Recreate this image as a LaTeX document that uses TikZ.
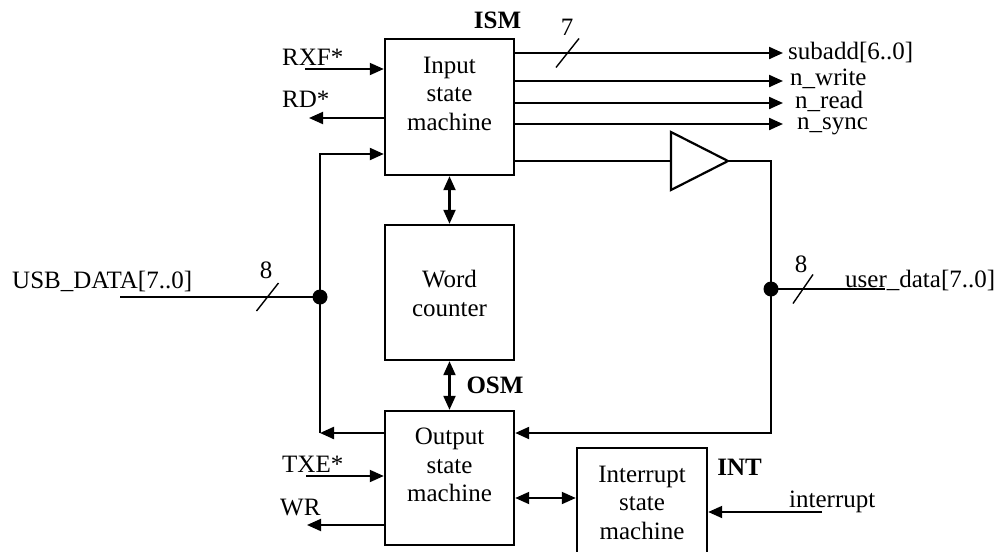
\documentclass[tikz,border=0pt]{standalone}
\usepackage{fontspec}
\setmainfont{Liberation Serif}
\usetikzlibrary{arrows.meta}

\begin{document}
\begin{tikzpicture}[x=1pt,y=-1pt,
  font=\fontsize{25}{28.5}\selectfont,
  >={Triangle[length=14pt,width=12pt]},
  blk/.style={draw,line width=2.4pt,minimum width=129pt,inner sep=0pt},
  blktext/.style={align=center,inner sep=0pt},
  sig/.style={inner sep=0pt,anchor=base west},
  blocktag/.style={inner sep=0pt,anchor=base,font=\fontsize{25}{28.5}\selectfont\bfseries},
  wire/.style={line width=2.2pt},
  lead/.style={line width=1.9pt},
  busmark/.style={line width=1.4pt}]
\useasboundingbox (0,0) rectangle (997,552);
\clip (0,0) rectangle (997,552);
% ---- blocks ----
\node[blk,minimum height=136pt] (ism) at (449.5,107) {};
\node[blktext] (ism-txt) at (449.5,93.5) {Input\\state\\machine};
\node[blk,minimum height=135pt] (wc) at (449.5,292.5) {};
\node[blktext] (wc-txt) at (449.5,293.5) {Word\\counter};
\node[blk,minimum height=134pt] (osm) at (449.5,478) {};
\node[blktext] (osm-txt) at (449.5,465) {Output\\state\\machine};
\node[blk,minimum width=130pt,minimum height=112pt] (int) at (642,504) {};
\node[blktext] (int-txt) at (642,502.5) {Interrupt\\state\\machine};
\node[blocktag] (ism-tag) at (497.5,28) {ISM};
\node[blocktag] (osm-tag) at (495,393) {OSM};
\node[blocktag] (int-tag) at (739.5,475) {INT};
% ---- end points ----
\coordinate (rxf) at (305,69);
\coordinate (rd) at (309,118);
\coordinate (fb) at (320,154);
\coordinate (lj) at (320,297);
\coordinate (ob) at (320,433);
\coordinate (usb) at (120,297);
\coordinate (sub) at (783,53);
\coordinate (nw) at (783,81);
\coordinate (nr) at (783,103);
\coordinate (ns) at (783,124);
\coordinate (bufin) at (671,161);
\coordinate (bufout) at (728,161);
\coordinate (rc) at (771,161);
\coordinate (rj) at (771,289);
\coordinate (rb) at (771,433);
\coordinate (ud) at (885,289);
\coordinate (txe) at (306,476);
\coordinate (wr) at (307,525);
\coordinate (intr) at (822,512);
\coordinate (s7) at (567.5,53);
\coordinate (sl) at (267.5,297);
\coordinate (sr) at (803,289);
% ---- ISM side ----
\draw[lead,->] (rxf) -- (rxf -| ism.west);
\draw[lead,->] (rd -| ism.west) -- (rd);
\draw[wire,->] (ism.east |- sub) -- (sub);
\draw[wire,->] (ism.east |- nw) -- (nw);
\draw[wire,->] (ism.east |- nr) -- (nr);
\draw[wire,->] (ism.east |- ns) -- (ns);
\draw[busmark] ([shift={(-11.5,14.5)}]s7) -- ([shift={(11.5,-14.5)}]s7);
\node[blocktag,font=\fontsize{25}{28.5}\selectfont] (n7) at (567,35) {7};
\node[sig] (sub-txt) at (788,59) {subadd[6..0]};
\node[sig] (nw-txt) at (790,85) {n\_write};
\node[sig] (nr-txt) at (795,108) {n\_read};
\node[sig] (ns-txt) at (797,129) {n\_sync};
\node[sig] (rxf-txt) at (282,65) {RXF*};
\node[sig] (rd-txt) at (282,107) {RD*};
% ---- USB data bus (left) ----
\draw[wire,->] (osm.west |- ob) -- (ob);
\draw[wire,->] (ob) -- (fb) -- (fb -| ism.west);
\draw[wire] (usb) -- (lj);
\fill (lj) circle (7.5pt);
\draw[busmark] ([shift={(-11,14)}]sl) -- ([shift={(11,-14)}]sl);
\node[blocktag,font=\fontsize{25}{28.5}\selectfont] (n8l) at (266,278) {8};
\node[sig] (usb-txt) at (12,288) {USB\_DATA[7..0]};
% ---- buffer and user data (right) ----
\draw[wire] (ism.east |- bufin) -- (bufin);
\draw[wire] ([yshift=29pt]bufin) -- (bufout) -- ([yshift=-29pt]bufin) -- cycle;
\draw[wire,->] (bufout) -- (rc) -- (rb) -- (rb -| osm.east);
\draw[wire] (rj) -- (ud);
\fill (rj) circle (7.5pt);
\draw[busmark] ([shift={(-10,14.5)}]sr) -- ([shift={(10,-14.5)}]sr);
\node[blocktag,font=\fontsize{25}{28.5}\selectfont] (n8r) at (801,272) {8};
\node[sig] (ud-txt) at (845,287) {user\_data[7..0]};
% ---- block links ----
\draw[wire,<->] (ism.south) -- (wc.north);
\draw[wire,<->] (wc.south) -- (osm.north);
\draw[lead,<->] (osm.east |- 0,498) -- (int.west |- 0,498);
% ---- OSM and INT side ----
\draw[lead,->] (txe) -- (txe -| osm.west);
\draw[lead,->] (wr -| osm.west) -- (wr);
\draw[lead,->] (intr) -- (intr -| int.east);
\node[sig] (txe-txt) at (282,472) {TXE*};
\node[sig] (wr-txt) at (280,515) {WR};
\node[sig] (intr-txt) at (789,507) {interrupt};
\end{tikzpicture}
\end{document}
